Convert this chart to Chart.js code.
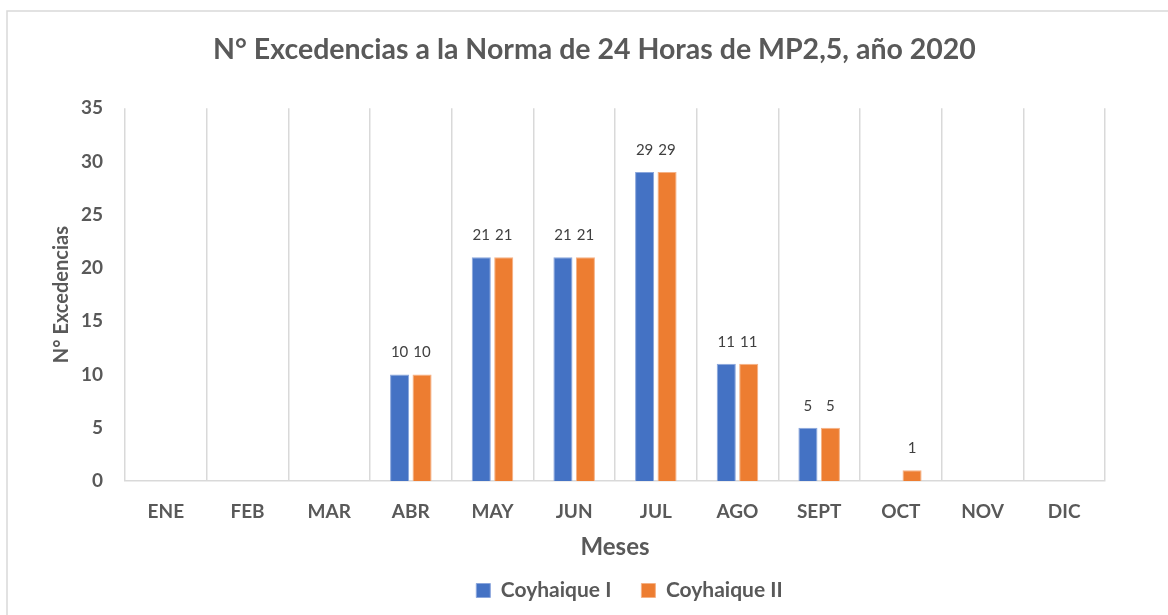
<!DOCTYPE html>
<html>
<head>
<meta charset="utf-8">
<script src="https://cdn.jsdelivr.net/npm/chart.js@4.4.1/dist/chart.umd.min.js"></script>
<style>
html,body{margin:0;padding:0;background:#fff;}
#wrap{position:relative;width:1168px;height:615px;}
</style>
</head>
<body>
<div id="wrap"><canvas id="c" width="1168" height="615"></canvas></div>
<script>
const months = ['ENE','FEB','MAR','ABR','MAY','JUN','JUL','AGO','SEPT','OCT','NOV','DIC'];
const coyhaique1 = [0,0,0,10,21,21,29,11,5,0,0,0];
const coyhaique2 = [0,0,0,10,21,21,29,11,5,1,0,0];
const yTicks = [0,5,10,15,20,25,30,35];

const FONT = 'Lato, "Open Sans", sans-serif';
const GREY = '#595959';

const borderPlugin = {
  id: 'frame',
  beforeDraw(chart) {
    const ctx = chart.ctx;
    ctx.save();
    ctx.fillStyle = '#fff';
    ctx.fillRect(0, 0, chart.width, chart.height);
    ctx.strokeStyle = '#d9d9d9';
    ctx.lineWidth = 1.5;
    ctx.strokeRect(7, 11, 1170, 620);
    ctx.restore();
  },
  afterLayout(chart) {
    const lg = chart.legend;
    if (lg) { lg.left += 54; lg.right += 54; }
    const tb = chart.titleBlock;
    if (tb) { tb.left += 19; tb.right += 19; }
  }
};

const labelPlugin = {
  id: 'valueLabels',
  afterDatasetsDraw(chart) {
    const ctx = chart.ctx;
    ctx.save();
    ctx.font = '15px ' + FONT;
    ctx.fillStyle = '#404040';
    ctx.textAlign = 'center';
    ctx.textBaseline = 'middle';
    chart.data.datasets.forEach((ds, di) => {
      const meta = chart.getDatasetMeta(di);
      meta.data.forEach((bar, i) => {
        const v = ds.data[i];
        if (!v) return;
        ctx.fillText(String(v), bar.x, bar.y - 22);
      });
    });
    ctx.restore();
  }
};

new Chart(document.getElementById('c'), {
  type: 'bar',
  data: {
    labels: months,
    datasets: [
      { label: 'Coyhaique I', data: coyhaique1, backgroundColor: '#4472C4', borderColor: '#8aa6dc', borderWidth: 1,
        categoryPercentage: 0.55, barPercentage: 0.85 },
      { label: 'Coyhaique II', data: coyhaique2, backgroundColor: '#ED7D31', borderColor: '#f5b185', borderWidth: 1,
        categoryPercentage: 0.55, barPercentage: 0.85 }
    ]
  },
  options: {
    responsive: false,
    animation: false,
    devicePixelRatio: 1,
    layout: { padding: { left: 46, right: 63, top: 0, bottom: 4 } },
    plugins: {
      title: {
        display: true,
        text: 'N° Excedencias a la Norma de 24 Horas de MP2,5, año 2020',
        color: GREY,
        font: { family: FONT, size: 28.5, weight: 'bold' },
        padding: { top: 33, bottom: 41 }
      },
      legend: {
        position: 'bottom',
        labels: {
          color: GREY,
          font: { family: FONT, size: 21, weight: 'bold' },
          boxWidth: 14, boxHeight: 14, padding: 30
        }
      },
      tooltip: { enabled: false }
    },
    scales: {
      x: {
        afterFit(scale) { scale.height = 69; },
        grid: { display: true, offset: true, color: '#d9d9d9', lineWidth: 1.5, drawTicks: false },
        border: { display: true, color: '#d9d9d9', width: 1.5 },
        ticks: { color: GREY, font: { family: FONT, size: 19, weight: 'bold' }, padding: 19 },
        title: { display: true, text: 'Meses', color: GREY, font: { family: FONT, size: 24, weight: 'bold' }, padding: { top: 0, bottom: -12 } }
      },
      y: {
        min: 0, max: 35,
        afterBuildTicks(scale) { scale.ticks = yTicks.map(v => ({ value: v })); },
        afterFit(scale) { scale.width = 79; },
        grid: { display: false, drawTicks: false },
        border: { display: false },
        ticks: { color: GREY, font: { family: FONT, size: 19, weight: 'bold' }, padding: 22 },
        title: { display: true, text: 'N° Excedencias', color: GREY, font: { family: FONT, size: 20, weight: 'bold' }, padding: { top: 4, bottom: 4 } }
      }
    }
  },
  plugins: [borderPlugin, labelPlugin]
});
</script>
</body>
</html>
